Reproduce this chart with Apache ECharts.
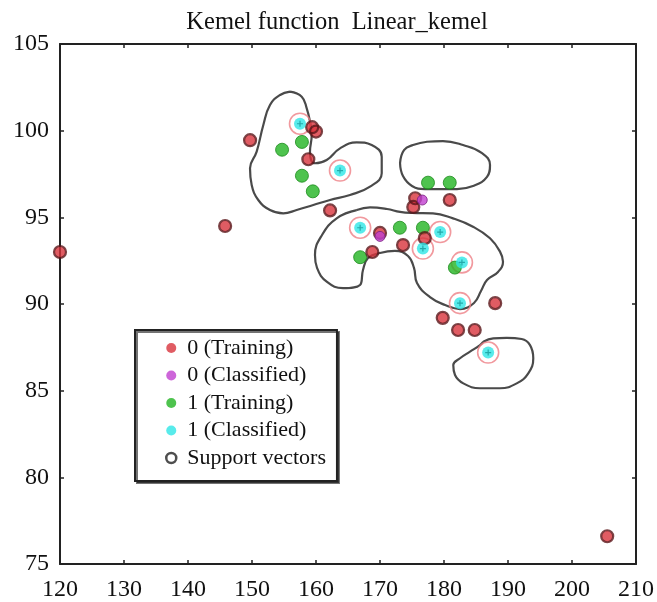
<!DOCTYPE html>
<html><head><meta charset="utf-8">
<script src="https://cdn.jsdelivr.net/npm/echarts@6/dist/echarts.min.js"></script>
<style>html,body{margin:0;padding:0;background:#fff}#c{width:657px;height:602px}</style>
</head><body><div id="c"></div><script>
const titleText = 'Kemel function  Linear_kemel';
const legendNames = ['0 (Training)', '0 (Classified)', '1 (Training)', '1 (Classified)', 'Support vectors'];
const xRange = [120, 210, 10];
const yRange = [75, 105, 5];

const class0Training = [[120.0,93.0],[145.8,94.5],[149.7,99.45],[159.4,100.2],[160.0,99.95],[158.8,98.35],[162.2,95.4],[175.5,96.1],[175.2,95.6],[180.9,96.0],[170.0,94.1],[177.0,93.8],[173.6,93.4],[168.8,93.0],[188.0,90.05],[179.8,89.2],[182.2,88.5],[184.8,88.5],[205.5,76.6]];
const class0Classified = [[176.6,96.0],[170.0,93.9]];
const class1Training = [[157.8,99.35],[154.7,98.9],[157.8,97.4],[159.5,96.5],[177.5,97.0],[180.9,97.0],[173.1,94.4],[176.7,94.4],[166.9,92.7],[181.7,92.1]];
const class1Classified = [[157.5,100.4],[163.75,97.7],[166.9,94.4],[179.4,94.15],[176.7,93.2],[182.8,92.4],[182.5,90.05],[186.9,87.2]];
const supportVectors = [[120.0,93.0],[145.8,94.5],[149.7,99.45],[159.4,100.2],[160.0,99.95],[158.8,98.35],[162.2,95.4],[175.5,96.1],[175.2,95.6],[180.9,96.0],[170.0,94.1],[177.0,93.8],[173.6,93.4],[168.8,93.0],[188.0,90.05],[179.8,89.2],[182.2,88.5],[184.8,88.5],[205.5,76.6]];
const ringedPoints = [[157.5,100.4],[163.75,97.7],[166.9,94.4],[179.4,94.15],[176.7,93.2],[182.8,92.4],[182.5,90.05],[186.9,87.2]];

const contourA = [[155.94,102.25],[157.77,101.96],[158.55,101.29],[159.06,100.52],[159.33,99.75],[159.06,98.79],[159.84,98.12],[161.67,98.31],[163.75,98.98],[166.36,99.33],[168.7,99.17],[170.27,98.5],[170.27,97.54],[168.44,96.77],[165.31,96.29],[162.19,96.0],[159.58,95.71],[156.98,95.42],[154.89,95.23],[152.81,95.42],[150.98,96.0],[149.95,96.87],[149.69,97.83],[150.73,98.79],[151.77,100.33],[152.81,101.48],[154.38,102.06],[155.94,102.25]];
const contourB = [[173.13,98.13],[173.75,98.88],[175.16,99.17],[177.34,99.36],[179.84,99.4],[182.97,99.17],[185.94,98.71],[187.19,98.02],[186.72,97.33],[184.53,96.81],[182.03,96.63],[179.38,96.63],[177.03,96.63],[175.0,96.81],[173.59,97.38],[173.13,98.13]];
const contourC = [[166.36,95.42],[168.44,95.57],[171.09,95.48],[173.13,95.31],[175.0,95.25],[178.28,95.23],[181.41,94.94],[184.53,94.46],[187.19,93.79],[188.75,93.02],[189.22,92.44],[188.44,91.85],[186.72,91.38],[185.78,90.75],[184.69,90.06],[182.5,89.71],[180.16,89.94],[177.81,90.4],[175.78,91.21],[175.31,92.08],[174.38,92.77],[172.34,93.06],[170.0,92.94],[168.13,92.65],[167.34,91.96],[166.88,91.1],[164.22,90.92],[161.72,91.27],[160.16,92.08],[159.84,92.83],[160.94,93.98],[163.28,94.96],[166.36,95.42]];
const contourD = [[186.14,87.82],[187.7,88.02],[189.8,88.05],[192.14,87.98],[193.44,87.63],[193.95,86.87],[193.17,86.0],[191.36,85.42],[188.75,85.14],[185.63,85.14],[183.02,85.42],[181.72,85.9],[181.45,86.48],[182.5,86.87],[184.06,87.25],[185.63,87.63],[186.14,87.82]];
const contours = [contourA, contourB, contourC, contourD];

const FONT = '"Liberation Serif", "DejaVu Serif", serif';
const chart = echarts.init(document.getElementById('c'), null, {renderer: 'canvas'});

const frameLine = {show: true, lineStyle: {color: '#222', width: 2}};
const tickIn = {show: true, inside: true, length: 4, lineStyle: {color: '#222', width: 1.5}};

const contourSeries = contours.map(c => ({
  type: 'line', data: c, smooth: 0.45, symbol: 'none', silent: true,
  lineStyle: {color: '#4a4a4a', width: 2.2}, z: 2
}));

const option = {
  animation: false,
  backgroundColor: '#fff',
  title: {
    text: titleText, left: 332, top: 5, textAlign: 'center',
    textStyle: {fontFamily: FONT, fontSize: 24.5, fontWeight: 'normal', color: '#111'}
  },
  grid: {left: 60, right: 21, top: 44, bottom: 38},
  legend: {
    orient: 'vertical', left: 135, top: 330,
    data: [
      {name: legendNames[0], icon: 'circle', itemStyle: {color: '#d8333c', borderWidth: 0}},
      {name: legendNames[1], icon: 'circle', itemStyle: {color: '#c040d0', borderWidth: 0}},
      {name: legendNames[2], icon: 'circle', itemStyle: {color: '#22b422', borderWidth: 0}},
      {name: legendNames[3], icon: 'circle', itemStyle: {color: '#2ee6e6', borderWidth: 0}},
      {name: legendNames[4], icon: 'circle', itemStyle: {color: '#fff', borderColor: '#222', borderWidth: 2.5}}
    ],
    itemWidth: 10, itemHeight: 10, itemGap: 5.5,
    padding: [7, 11, 12, 30],
    backgroundColor: '#fff', borderColor: '#222', borderWidth: 2,
    shadowColor: 'rgba(0,0,0,0.55)', shadowOffsetX: 2, shadowOffsetY: 2, shadowBlur: 0,
    textStyle: {fontFamily: FONT, fontSize: 22, color: '#111', lineHeight: 22, padding: [0, 0, 0, 6]}
  },
  xAxis: [
    {type: 'value', min: xRange[0], max: xRange[1], interval: xRange[2], position: 'bottom',
     axisLine: frameLine, axisTick: tickIn, splitLine: {show: false},
     axisLabel: {fontFamily: FONT, fontSize: 24, color: '#111', margin: 14}},
    {type: 'value', min: xRange[0], max: xRange[1], interval: xRange[2], position: 'top',
     axisLine: frameLine, axisTick: tickIn, splitLine: {show: false}, axisLabel: {show: false}}
  ],
  yAxis: [
    {type: 'value', min: yRange[0], max: yRange[1], interval: yRange[2], position: 'left',
     axisLine: frameLine, axisTick: tickIn, splitLine: {show: false},
     axisLabel: {fontFamily: FONT, fontSize: 24, color: '#111', margin: 11}},
    {type: 'value', min: yRange[0], max: yRange[1], interval: yRange[2], position: 'right',
     axisLine: frameLine, axisTick: tickIn, splitLine: {show: false}, axisLabel: {show: false}}
  ],
  series: [
    ...contourSeries,
    {name: 'rings', type: 'scatter', data: ringedPoints, symbol: 'circle', symbolSize: 21, silent: true,
     itemStyle: {color: 'rgba(255,255,255,0)', borderColor: '#ee7f86', borderWidth: 1.6}, z: 3},
    {name: legendNames[2], type: 'scatter', data: class1Training, symbol: 'circle', symbolSize: 13,
     itemStyle: {color: '#22b422', borderColor: '#1a8a1a', borderWidth: 1}, z: 4},
    {name: legendNames[0], type: 'scatter', data: class0Training, symbol: 'circle', symbolSize: 11,
     itemStyle: {color: '#d8333c'}, z: 5},
    {name: legendNames[4], type: 'scatter', data: supportVectors, symbol: 'circle', symbolSize: 12,
     itemStyle: {color: 'rgba(255,255,255,0)', borderColor: '#5a1418', borderWidth: 2.2}, z: 6},
    {name: legendNames[1], type: 'scatter', data: class0Classified, symbol: 'circle', symbolSize: 10,
     itemStyle: {color: '#c040d0', borderColor: '#7a2080', borderWidth: 1}, z: 7},
    {name: legendNames[3], type: 'scatter', data: class1Classified, symbol: 'circle', symbolSize: 12,
     itemStyle: {color: '#2ee6e6'}, z: 7},
    {name: 'cyanCross', type: 'scatter', data: class1Classified, silent: true,
     symbol: 'path://M4,0H6V4H10V6H6V10H4V6H0V4H4Z', symbolSize: 6,
     itemStyle: {color: '#159a9a', opacity: 0.8}, z: 8}
  ]
};
chart.setOption(option);
</script></body></html>
